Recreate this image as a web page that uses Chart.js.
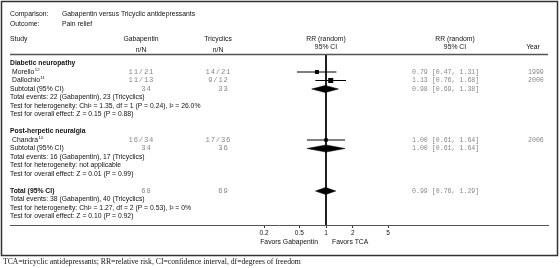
<!DOCTYPE html>
<html>
<head>
<meta charset="utf-8">
<script src="https://cdn.jsdelivr.net/npm/chart.js@4.4.0/dist/chart.umd.min.js"></script>
<style>
body { margin: 0; background: #fff; }
#wrap { width: 560px; height: 268px; position: relative; }
</style>
</head>
<body>
<div id="wrap"><canvas id="chart-area"></canvas></div>
<script>
// estudios
const estudios = ['Morello', 'Dallochio', 'Chandra'];
const refs = ['12', '11', '10'];
const filasEstudio = [2, 3, 10];
const gabaN = ['11/21', '11/13', '16/34'];
const tcaN = ['14/21', '9/12', '17/36'];
const rr = [0.79, 1.13, 1.00];
const rrLo = [0.47, 0.76, 0.61];
const rrHi = [1.31, 1.68, 1.64];
const anios = ['1999', '2000', '2006'];
const pesos = [4, 5, 3.5]; // lado del cuadrado

// subtotales y total
const filasResumen = [4, 11, 16];
const resumenLabel = ['Subtotal (95% CI)', 'Subtotal (95% CI)', 'Total (95% CI)'];
const resumenGaba = ['34', '34', '68'];
const resumenTca = ['33', '36', '69'];
const resumenRR = [0.98, 1.00, 0.99];
const resumenLo = [0.69, 0.61, 0.76];
const resumenHi = [1.38, 1.64, 1.29];

const grupos = [[1, 'Diabetic neuropathy'], [9, 'Post-herpetic neuralgia']];
const lineasTexto = [
  [5, 'Total events: 22 (Gabapentin), 23 (Tricyclics)'],
  [6, 'Test for heterogeneity: Chi\u00b2 = 1.35, df = 1 (P = 0.24), I\u00b2 = 26.0%'],
  [7, 'Test for overall effect: Z = 0.15 (P = 0.88)'],
  [12, 'Total events: 16 (Gabapentin), 17 (Tricyclics)'],
  [13, 'Test for heterogeneity: not applicable'],
  [14, 'Test for overall effect: Z = 0.01 (P = 0.99)'],
  [17, 'Total events: 38 (Gabapentin), 40 (Tricyclics)'],
  [18, 'Test for heterogeneity: Chi\u00b2 = 1.27, df = 2 (P = 0.53), I\u00b2 = 0%'],
  [19, 'Test for overall effect: Z = 0.10 (P = 0.92)']
];
const ticksX = [0.2, 0.5, 1, 2, 5];

const SANS = '"Liberation Sans", Arial, sans-serif';
const MONO = '"Liberation Mono", "Courier New", monospace';
const H_DIAM = 0.42;

const datasets = [];
// linea vertical en 1
datasets.push({
  data: [{x: 1, y: 0}, {x: 1, y: 20}],
  borderColor: '#000', borderWidth: 1, pointRadius: 0
});
estudios.forEach((e, i) => {
  datasets.push({
    data: [{x: rrLo[i], y: filasEstudio[i]}, {x: rrHi[i], y: filasEstudio[i]}],
    borderColor: '#000', borderWidth: 1, pointRadius: 0
  });
});
datasets.push({
  data: estudios.map((e, i) => ({x: rr[i], y: filasEstudio[i]})),
  showLine: false,
  pointStyle: 'rect',
  pointRadius: pesos.map(p => p / 2 / Math.SQRT1_2),
  backgroundColor: '#000', borderColor: '#000', borderWidth: 0
});
filasResumen.forEach((f, i) => {
  datasets.push({
    data: [
      {x: resumenLo[i], y: f}, {x: resumenRR[i], y: f - H_DIAM},
      {x: resumenHi[i], y: f}, {x: resumenRR[i], y: f + H_DIAM},
      {x: resumenLo[i], y: f}
    ],
    fill: 'shape',
    backgroundColor: '#000', borderColor: '#000', borderWidth: 0.5, pointRadius: 0
  });
});

const textos = {
  id: 'textos',
  beforeDraw(chart) {
    const ctx = chart.ctx;
    ctx.save();
    ctx.fillStyle = '#fff';
    ctx.fillRect(0, 0, chart.width, chart.height);
    ctx.restore();
  },
  afterDraw(chart) {
    const ctx = chart.ctx;
    const ys = chart.scales.y;
    const xs = chart.scales.x;
    const area = chart.chartArea;
    ctx.save();
    ctx.textBaseline = 'middle';
    function txt(s, x, y, font, color, align) {
      ctx.font = font;
      ctx.fillStyle = color || '#111';
      ctx.textAlign = align || 'left';
      ctx.fillText(s, x, y);
    }
    const f = '6.8px ' + SANS;
    const fb = 'bold 6.8px ' + SANS;
    const fm = '6.6px ' + MONO;
    const fn = '7.2px ' + MONO;

    // marco
    ctx.strokeStyle = '#333';
    ctx.lineWidth = 1.5;
    ctx.strokeRect(1.5, 1.5, 556, 254);

    // cabecera
    txt('Comparison:', 10, 14, f);
    txt('Gabapentin versus Tricyclic antidepressants', 62, 14, f);
    txt('Outcome:', 10, 24, f);
    txt('Pain relief', 62, 24, f);
    txt('Study', 10, 39, f);
    txt('Gabapentin', 141, 39, f, '#111', 'center');
    txt('n/N', 141, 50, f, '#111', 'center');
    txt('Tricyclics', 218, 39, f, '#111', 'center');
    txt('n/N', 218, 50, f, '#111', 'center');
    const x1 = xs.getPixelForValue(1);
    txt('RR (random)', x1, 39, f, '#111', 'center');
    txt('95% CI', x1, 47, f, '#111', 'center');
    txt('RR (random)', 455, 39, f, '#111', 'center');
    txt('95% CI', 455, 47, f, '#111', 'center');
    txt('Year', 533, 47, f, '#111', 'center');

    ctx.strokeStyle = '#555';
    ctx.lineWidth = 1.5;
    ctx.beginPath();
    ctx.moveTo(area.left, area.top - 0.5);
    ctx.lineTo(area.right, area.top - 0.5);
    ctx.stroke();

    grupos.forEach(g => txt(g[1], 10, ys.getPixelForValue(g[0]), fb));
    lineasTexto.forEach(l => txt(l[1], 10, ys.getPixelForValue(l[0]), f));

    estudios.forEach((e, i) => {
      const y = ys.getPixelForValue(filasEstudio[i]);
      ctx.letterSpacing = '0px';
      txt(e, 12, y, f);
      const w = ctx.measureText(e).width;
      txt(refs[i], 12 + w + 0.5, y - 2.5, '4.3px ' + SANS);
      ctx.letterSpacing = '0.8px';
      txt(gabaN[i], 141.4, y, fn, '#888', 'center');
      txt(tcaN[i], 218.4, y, fn, '#888', 'center');
      ctx.letterSpacing = '0px';
      txt(rr[i].toFixed(2) + ' [' + rrLo[i].toFixed(2) + ', ' + rrHi[i].toFixed(2) + ']', 412, y, fm, '#888');
      txt(anios[i], 528, y, fm, '#888');
    });
    filasResumen.forEach((r, i) => {
      const y = ys.getPixelForValue(r);
      ctx.letterSpacing = '0px';
      txt(resumenLabel[i], 10, y, i === 2 ? fb : f);
      ctx.letterSpacing = '0.8px';
      txt(resumenGaba[i], 146.4, y, fn, '#888', 'center');
      txt(resumenTca[i], 223.4, y, fn, '#888', 'center');
      ctx.letterSpacing = '0px';
      txt(resumenRR[i].toFixed(2) + ' [' + resumenLo[i].toFixed(2) + ', ' + resumenHi[i].toFixed(2) + ']', 412, y, fm, '#888');
    });

    txt('Favors Gabapentin', x1 - 8, 242, f, '#111', 'right');
    txt('Favors TCA', x1 + 6, 242, f);

    txt('TCA=tricyclic antidepressants; RR=relative risk, CI=confidence interval, df=degrees of freedom',
      3, 262, '7.7px "Liberation Serif", "Times New Roman", serif', '#111');
    ctx.restore();
  }
};

const ctx = document.getElementById('chart-area').getContext('2d');
const chart = new Chart(ctx, {
  type: 'line',
  data: { datasets: datasets },
  plugins: [textos],
  options: {
    responsive: true,
    maintainAspectRatio: false,
    animation: false,
    devicePixelRatio: 1,
    layout: { padding: { left: 10, right: 12, top: 55, bottom: 0 } },
    plugins: { legend: { display: false }, tooltip: { enabled: false } },
    scales: {
      x: {
        type: 'logarithmic',
        min: 0.000274,
        max: 318,
        afterBuildTicks(s) { s.ticks = ticksX.map(v => ({ value: v })); },
        afterFit(s) { s.height = 43; },
        border: { color: '#555', width: 1 },
        grid: { drawOnChartArea: false, drawTicks: true, tickLength: 3, color: '#333' },
        ticks: {
          autoSkip: false, maxRotation: 0, padding: 1,
          color: '#111', font: { family: SANS, size: 6.5 },
          callback: v => String(v)
        }
      },
      y: { type: 'linear', display: false, min: 0, max: 20, reverse: true }
    }
  }
});
</script>
</body>
</html>
